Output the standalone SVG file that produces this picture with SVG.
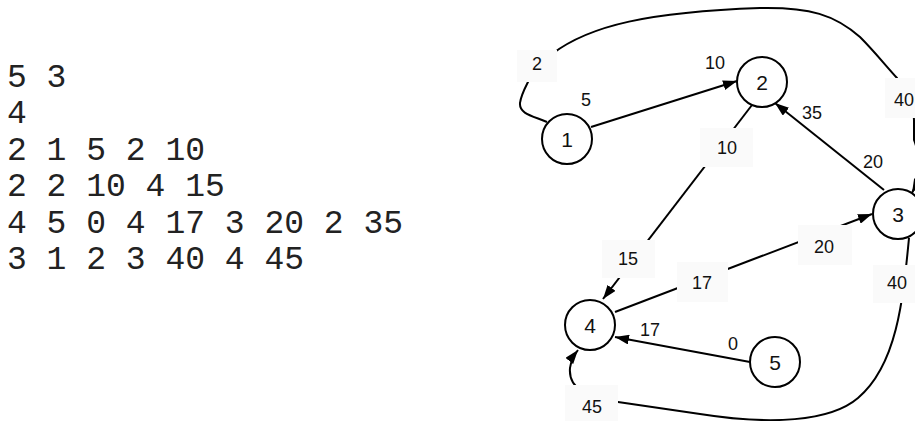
<svg xmlns="http://www.w3.org/2000/svg" width="915" height="421" viewBox="0 0 915 421">
  <style>
    .listing { font-family: "Liberation Mono", "Courier New", monospace; font-size: 33px; fill: #222; }
    .edge { fill: none; stroke: #000; stroke-width: 2; }
    .node circle { fill: #fff; stroke: #000; stroke-width: 2; }
    .node text { font-family: "Liberation Sans", Arial, sans-serif; font-size: 21px; fill: #111; text-anchor: middle; }
    .wt { font-family: "Liberation Sans", Arial, sans-serif; font-size: 18px; fill: #111; text-anchor: middle; }
    .box { fill: #fafafa; }
  </style>
  <defs>
    <marker id="arr" markerWidth="14" markerHeight="10" refX="14" refY="5" orient="auto" markerUnits="userSpaceOnUse">
      <path d="M0,0 L14,5 L0,10 z" fill="#000"/>
    </marker>
  </defs>
  <rect width="915" height="421" fill="#fff"/>

  <!-- input listing -->
  <g id="listing" class="listing">
    <text x="7" y="86.5" xml:space="preserve">5 3</text>
    <text x="7" y="123" xml:space="preserve">4</text>
    <text x="7" y="159.5" xml:space="preserve">2 1 5 2 10</text>
    <text x="7" y="196" xml:space="preserve">2 2 10 4 15</text>
    <text x="7" y="232.5" xml:space="preserve">4 5 0 4 17 3 20 2 35</text>
    <text x="7" y="269" xml:space="preserve">3 1 2 3 40 4 45</text>
  </g>

  <!-- connectors -->
  <g id="edges">
    <line class="edge" x1="591" y1="127" x2="737" y2="81" marker-end="url(#arr)"/>
    <line class="edge" x1="752" y1="105" x2="603" y2="299" marker-end="url(#arr)"/>
    <line class="edge" x1="884" y1="190" x2="775" y2="103" marker-end="url(#arr)"/>
    <line class="edge" x1="615" y1="312" x2="872" y2="214" marker-end="url(#arr)"/>
    <line class="edge" x1="750" y1="362" x2="615" y2="337" marker-end="url(#arr)"/>
    <path class="edge" d="M909,238 C903,300 897,365 858,398 C830,422 770,425 700,414 L618,402 C590,398 568,390 570,368 C571,360 574,355 578,350" marker-end="url(#arr)"/>
    <path class="edge" d="M547,122 C533,116 519,114 520,103 C521,95 525,88 529,80 L552,54 C590,25 650,12 760,8 C810,7 835,15 860,37 C875,52 885,65 897,78 C906,92 914,105 914,120 L914,140 C921,158 921,176 912,193" marker-end="url(#arr)"/>

    <!-- weight labels sitting on the lines -->
    <rect class="box" x="517" y="50" width="40" height="32"/>
    <rect class="box" x="700" y="128" width="53" height="39"/>
    <rect class="box" x="602" y="240" width="53" height="38"/>
    <rect class="box" x="677" y="262" width="51" height="40"/>
    <rect class="box" x="798" y="225" width="54" height="40"/>
    <rect class="box" x="873" y="265" width="42" height="38"/>
    <rect class="box" x="565" y="385" width="53" height="36"/>
    <rect class="box" x="885" y="78" width="30" height="40"/>

    <text class="wt" x="537" y="69.5">2</text>
    <text class="wt" x="586" y="106">5</text>
    <text class="wt" x="715" y="69">10</text>
    <text class="wt" x="727" y="154">10</text>
    <text class="wt" x="812" y="119">35</text>
    <text class="wt" x="873" y="168">20</text>
    <text class="wt" x="628" y="265">15</text>
    <text class="wt" x="702" y="289">17</text>
    <text class="wt" x="824" y="253">20</text>
    <text class="wt" x="897" y="289">40</text>
    <text class="wt" x="733" y="350">0</text>
    <text class="wt" x="650" y="336">17</text>
    <text class="wt" x="592" y="413">45</text>
    <text class="wt" x="914" y="106" style="text-anchor:end">40</text>
  </g>

  <!-- nodes -->
  <g id="node1" class="node"><circle cx="567" cy="139" r="25"/><text x="567" y="146.5">1</text></g>
  <g id="node2" class="node"><circle cx="762" cy="82" r="25"/><text x="762" y="89.5">2</text></g>
  <g id="node3" class="node"><circle cx="898" cy="214" r="25"/><text x="898" y="221.5">3</text></g>
  <g id="node4" class="node"><circle cx="590" cy="325" r="25"/><text x="590" y="332.5">4</text></g>
  <g id="node5" class="node"><circle cx="775" cy="362" r="25"/><text x="775" y="369.5">5</text></g>
</svg>
